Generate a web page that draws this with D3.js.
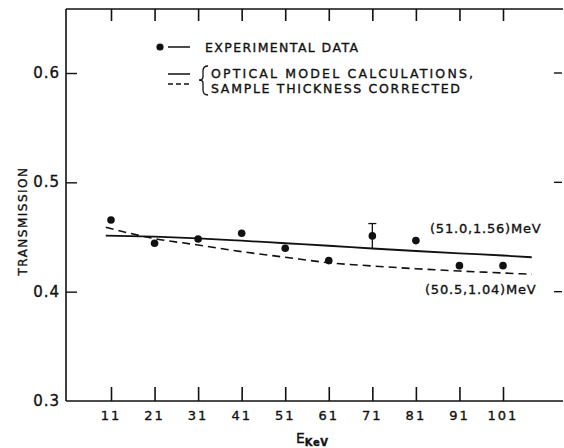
<!DOCTYPE html>
<html><head><meta charset="utf-8">
<script src="https://cdn.jsdelivr.net/npm/d3@7"></script>
<style>
html,body{margin:0;padding:0;background:#fff;}
svg{display:block;}
text{font-family:"DejaVu Sans",sans-serif;fill:#111;stroke:#111;stroke-width:0.35px;}
</style></head>
<body><svg id="c" width="564" height="448"></svg>
<script>
const energies = [11,21,31,41,51,61,71,81,91,101];
const experimental = [0.4656,0.4443,0.4482,0.4534,0.4397,0.4284,0.4510,0.4467,0.4238,0.4238];
const errorBarE = [71];
const errorBarHalf = [0.0113];
const curveE = [9.8,21,31,41,51,61,71,81,91,101,107.6];
const solidCurve = [0.4512,0.4503,0.4488,0.4466,0.4443,0.4420,0.4395,0.4372,0.4351,0.4331,0.4315];
const dashedCurve = [0.4589,0.4485,0.4427,0.4366,0.4315,0.4265,0.4235,0.4210,0.4189,0.4171,0.4159];
const yTicks = [0.3,0.4,0.5,0.6];
const xTickLabels = ["11","21","31","41","51","61","71","81","91","101"];

const svg = d3.select("#c");
const L=66, R=560, T=9, B=401;
const x = d3.scaleLinear().domain([11,101]).range([111,503]);
const y = d3.scaleLinear().domain([0.3,0.6]).range([401,73]);
const ink="#111";

// frame
svg.append("line").attr("x1",L).attr("x2",L).attr("y1",T).attr("y2",B).attr("stroke",ink).attr("stroke-width",1.6);
svg.append("line").attr("x1",L).attr("x2",R+3).attr("y1",T).attr("y2",T).attr("stroke",ink).attr("stroke-width",1.6);
svg.append("line").attr("x1",L).attr("x2",R+3).attr("y1",B).attr("y2",B).attr("stroke",ink).attr("stroke-width",1.6);

// bottom axis (ticks pointing inward)
const xb = svg.append("g").attr("transform",`translate(0,${B})`)
  .call(d3.axisBottom(x).tickValues(energies).tickSize(-14).tickPadding(0).tickFormat((d,i)=>""));
xb.select(".domain").remove();
xb.selectAll("line").attr("stroke",ink).attr("stroke-width",1.6);
svg.append("g").selectAll("text").data(energies).join("text")
  .attr("x",d=>x(d)).attr("y",420).attr("text-anchor","middle")
  .attr("font-size",13).attr("letter-spacing",2).text((d,i)=>xTickLabels[i]);

// top axis
const xt = svg.append("g").attr("transform",`translate(0,${T})`)
  .call(d3.axisTop(x).tickValues(energies).tickSize(-12).tickFormat(""));
xt.select(".domain").remove();
xt.selectAll("line").attr("stroke",ink).attr("stroke-width",1.6);

// left axis
const yl = svg.append("g").attr("transform",`translate(${L},0)`)
  .call(d3.axisLeft(y).tickValues(yTicks.slice(1)).tickSize(-11).tickFormat(""));
yl.select(".domain").remove();
yl.selectAll("line").attr("stroke",ink).attr("stroke-width",1.4);
svg.append("g").selectAll("text").data(yTicks).join("text")
  .attr("x",60).attr("y",d=>y(d)+5).attr("text-anchor","end")
  .attr("font-size",15).attr("letter-spacing",1).text(d=>d.toFixed(1));

// right ticks (floating)
svg.append("g").selectAll("line").data(yTicks.slice(1)).join("line")
  .attr("x1",554).attr("x2",562).attr("y1",d=>y(d)).attr("y2",d=>y(d))
  .attr("stroke",ink).attr("stroke-width",1.4);

// axis titles
svg.append("text").attr("transform","translate(27,221) rotate(-90)")
  .attr("text-anchor","middle").attr("font-size",12).attr("letter-spacing",1.5).text("TRANSMISSION");
const et = svg.append("text").attr("x",296).attr("y",443).attr("font-size",14);
et.append("tspan").text("E");
et.append("tspan").attr("font-size",10).attr("dy",3).attr("font-weight","bold").attr("letter-spacing",0.5).text("KeV");

// curves
const line = d3.line().x((d,i)=>x(curveE[i])).y(d=>y(d)).curve(d3.curveMonotoneX);
svg.append("path").attr("d",line(solidCurve)).attr("fill","none").attr("stroke",ink).attr("stroke-width",1.8);
svg.append("path").attr("d",line(dashedCurve)).attr("fill","none").attr("stroke",ink).attr("stroke-width",1.6).attr("stroke-dasharray","8,5");

// error bar
errorBarE.forEach((e,k)=>{
  const i = energies.indexOf(e);
  const v = experimental[i], h = errorBarHalf[k];
  svg.append("line").attr("x1",x(e)).attr("x2",x(e)).attr("y1",y(v+h)).attr("y2",y(v-h)).attr("stroke",ink).attr("stroke-width",1.3);
  svg.append("line").attr("x1",x(e)-4).attr("x2",x(e)+4).attr("y1",y(v+h)).attr("y2",y(v+h)).attr("stroke",ink).attr("stroke-width",1.3);
});

// points
svg.append("g").selectAll("circle").data(experimental).join("circle")
  .attr("cx",(d,i)=>x(energies[i])).attr("cy",d=>y(d)).attr("r",3.8).attr("fill",ink);

// curve labels
svg.append("text").attr("x",430).attr("y",233).attr("font-size",13).attr("letter-spacing",0.8).text("(51.0,1.56)MeV");
svg.append("text").attr("x",425).attr("y",294).attr("font-size",13).attr("letter-spacing",0.8).text("(50.5,1.04)MeV");

// legend
svg.append("circle").attr("cx",160).attr("cy",47).attr("r",3.6).attr("fill",ink);
svg.append("line").attr("x1",168).attr("x2",190).attr("y1",47).attr("y2",47).attr("stroke",ink).attr("stroke-width",1.5);
svg.append("text").attr("x",205).attr("y",52).attr("font-size",12.5).attr("textLength",153).attr("lengthAdjust","spacing").text("EXPERIMENTAL DATA");
svg.append("line").attr("x1",168).attr("x2",190).attr("y1",74).attr("y2",74).attr("stroke",ink).attr("stroke-width",1.5);
svg.append("line").attr("x1",168).attr("x2",190).attr("y1",84).attr("y2",84).attr("stroke",ink).attr("stroke-width",1.5).attr("stroke-dasharray","5,3");
svg.append("path").attr("d","M208,66 Q203,66 203,71 L203,77 Q203,80 199,80 Q203,80 203,83 L203,90 Q203,95 208,95")
  .attr("fill","none").attr("stroke",ink).attr("stroke-width",1.3);
svg.append("text").attr("x",211).attr("y",78).attr("font-size",12.5).attr("textLength",262).attr("lengthAdjust","spacing").text("OPTICAL MODEL CALCULATIONS,");
svg.append("text").attr("x",211).attr("y",93).attr("font-size",12.5).attr("textLength",249).attr("lengthAdjust","spacing").text("SAMPLE THICKNESS CORRECTED");
</script></body></html>
